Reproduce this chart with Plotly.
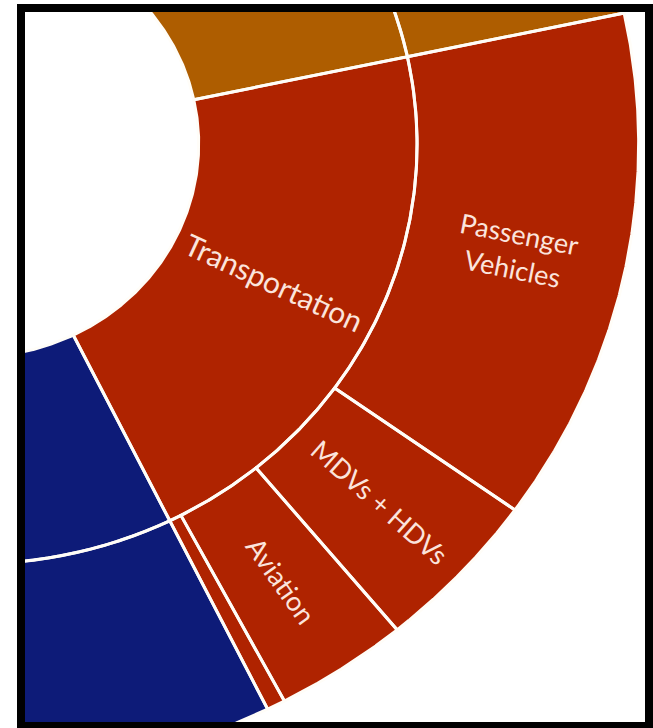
import numpy as np
import plotly.graph_objects as go

# ---------------- data (shares of total, %) ----------------
# inner ring, listed clockwise starting at the Industry/Transportation boundary
sector_labels = ["Transportation", "Electricity", "Commercial & Residential", "Agriculture", "Industry"]
sector_values = [21.05, 25.0, 13.0, 10.0, 30.95]
sector_colors = ["#AF2300", "#0D1B78", "#5B7F2A", "#6E6E6E", "#AE5D00"]

# outer ring: children of each sector (clockwise order)
child_parents = ["Transportation", "Transportation", "Transportation", "Transportation",
                 "Electricity", "Commercial & Residential", "Agriculture", "Industry"]
child_labels = ["Passenger<br>Vehicles", "MDVs + HDVs", "Aviation", "Other",
                "Electricity", "Commercial & Residential", "Agriculture", "Industry"]
child_values = [13.2, 4.15, 3.25, 0.45, 25.0, 13.0, 10.0, 30.95]
child_show_label = [True, True, True, False, False, False, False, False]

# ---------------- geometry / styling ----------------
W, H = 653, 728
ML, MT, MR, MB = 21, 8, 4, 2          # plot area = inside of the frame
SX = 1.055                             # horizontal stretch of the picture
CX, CY = -26.0, 144.0                  # centre in page pixels
R0, R1, R2 = 213.0, 420.0, 630.0       # hole, ring boundary, outer radius
START = 12.0                           # angle (deg) of first boundary
SEP = "#FFFDF8"
TXT = "#FBE4DC"
FONT = "Lato"

def sector_xy(a0, a1, r_in, r_out, n=240):
    th = np.radians(np.linspace(a0, a1, n))
    xo, yo = r_out * np.cos(th), r_out * np.sin(th)
    xi, yi = r_in * np.cos(th[::-1]), r_in * np.sin(th[::-1])
    x = np.concatenate([xo, xi, xo[:1]])
    y = np.concatenate([yo, yi, yo[:1]])
    return x, y

deg_per = 360.0 / sum(sector_values)
color_of = dict(zip(sector_labels, sector_colors))

# angle spans (clockwise => decreasing angle)
inner = []
a = START
for lab, v in zip(sector_labels, sector_values):
    inner.append((lab, a, a - v * deg_per))
    a -= v * deg_per

outer = []
a = START
for par in sector_labels:
    for p, lab, v, show in zip(child_parents, child_labels, child_values, child_show_label):
        if p == par:
            outer.append((lab, par, a, a - v * deg_per, show))
            a -= v * deg_per

fig = go.Figure()
shapes_xy = []
for lab, a0, a1 in inner:
    x, y = sector_xy(a0, a1, R0, R1)
    shapes_xy.append((x, y))
    fig.add_trace(go.Scatter(x=x, y=y, fill="toself", fillcolor=color_of[lab],
                             line=dict(width=0), mode="lines", hoverinfo="skip",
                             showlegend=False))
for lab, par, a0, a1, show in outer:
    x, y = sector_xy(a0, a1, R1, R2)
    shapes_xy.append((x, y))
    fig.add_trace(go.Scatter(x=x, y=y, fill="toself", fillcolor=color_of[par],
                             line=dict(width=0), mode="lines", hoverinfo="skip",
                             showlegend=False))
for x, y in shapes_xy:
    fig.add_trace(go.Scatter(x=x, y=y, mode="lines", line=dict(color=SEP, width=3),
                             hoverinfo="skip", showlegend=False))

def label(text, a0, a1, r_in, r_out, size):
    th = np.radians((a0 + a1) / 2)
    rm = (r_in + r_out) / 2
    ang = np.degrees(np.arctan2(-np.sin(th), SX * np.cos(th)))
    fig.add_annotation(x=rm * np.cos(th), y=rm * np.sin(th), text=text,
                       textangle=float(ang), showarrow=False,
                       font=dict(family=FONT, size=size, color=TXT))

for lab, a0, a1 in inner:
    if lab == "Transportation":
        label(lab, a0, a1, R0, R1, 30)
for lab, par, a0, a1, show in outer:
    if show:
        label(lab, a0, a1, R1, R2, 27)

pw = W - ML - MR
ph = H - MT - MB
fig.update_layout(
    width=W, height=H, autosize=False,
    margin=dict(l=ML, r=MR, t=MT, b=MB, pad=0),
    paper_bgcolor="white", plot_bgcolor="white",
    xaxis=dict(range=[(ML - CX) / SX, (ML + pw - CX) / SX], visible=False,
               showgrid=False, zeroline=False, fixedrange=True),
    yaxis=dict(range=[CY - (MT + ph), CY - MT], visible=False,
               showgrid=False, zeroline=False, fixedrange=True),
    shapes=[dict(type="rect", xref="paper", yref="paper", x0=0, x1=1, y0=0, y1=1,
                 line=dict(color="black", width=8), fillcolor="rgba(0,0,0,0)",
                 layer="above")],
)

fig.write_html("out.html")
